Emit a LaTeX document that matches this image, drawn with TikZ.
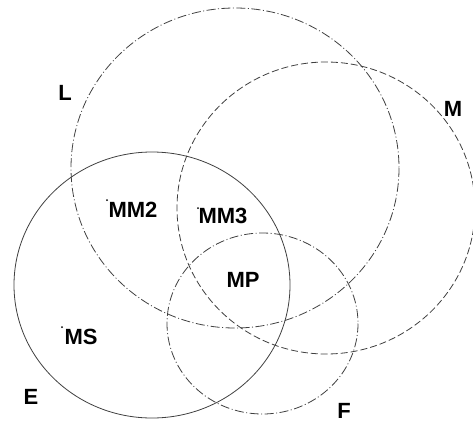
\documentclass[tikz,border=0pt]{standalone}
\usepackage{fontspec}
\setmainfont{Liberation Sans}
\begin{document}
\begin{tikzpicture}[x=1pt,y=-1pt,
  ring/.style={draw=black!75,line width=0.8pt},
  dashdot/.style={dash pattern=on 9pt off 2.5pt on 1pt off 2.5pt},
  dashonly/.style={dash pattern=on 7pt off 3pt},
  lbl/.style={inner sep=0pt,font=\fontsize{22}{24}\selectfont\bfseries},
  pt/.style={fill=black,inner sep=0pt,minimum size=2pt,circle}]
\useasboundingbox (0,0) rectangle (473,423);
\draw[ring,dashdot] (235,168) ellipse [x radius=164,y radius=160];
\draw[ring,dashonly] (326,208) ellipse [x radius=149,y radius=146];
\draw[ring] (152,285) ellipse [x radius=138,y radius=133];
\draw[ring,dashdot] (262.5,323.5) ellipse [x radius=95.5,y radius=90.5];
\node[lbl] (L) at (65,93) {L};
\node[lbl] (M) at (453,109) {M};
\node[lbl] (E) at (31,397) {E};
\node[lbl] (F) at (344,411) {F};
\node[lbl] (MM2) at (133,210) {MM2};
\node[lbl] (MM3) at (223,216) {MM3};
\node[lbl] (MP) at (243,280) {MP};
\node[lbl] (MS) at (81,337) {MS};
\node[pt] (d1) at (107,200) {};
\node[pt] (d2) at (198,208) {};
\node[pt] (d3) at (62,327) {};
\end{tikzpicture}
\end{document}
